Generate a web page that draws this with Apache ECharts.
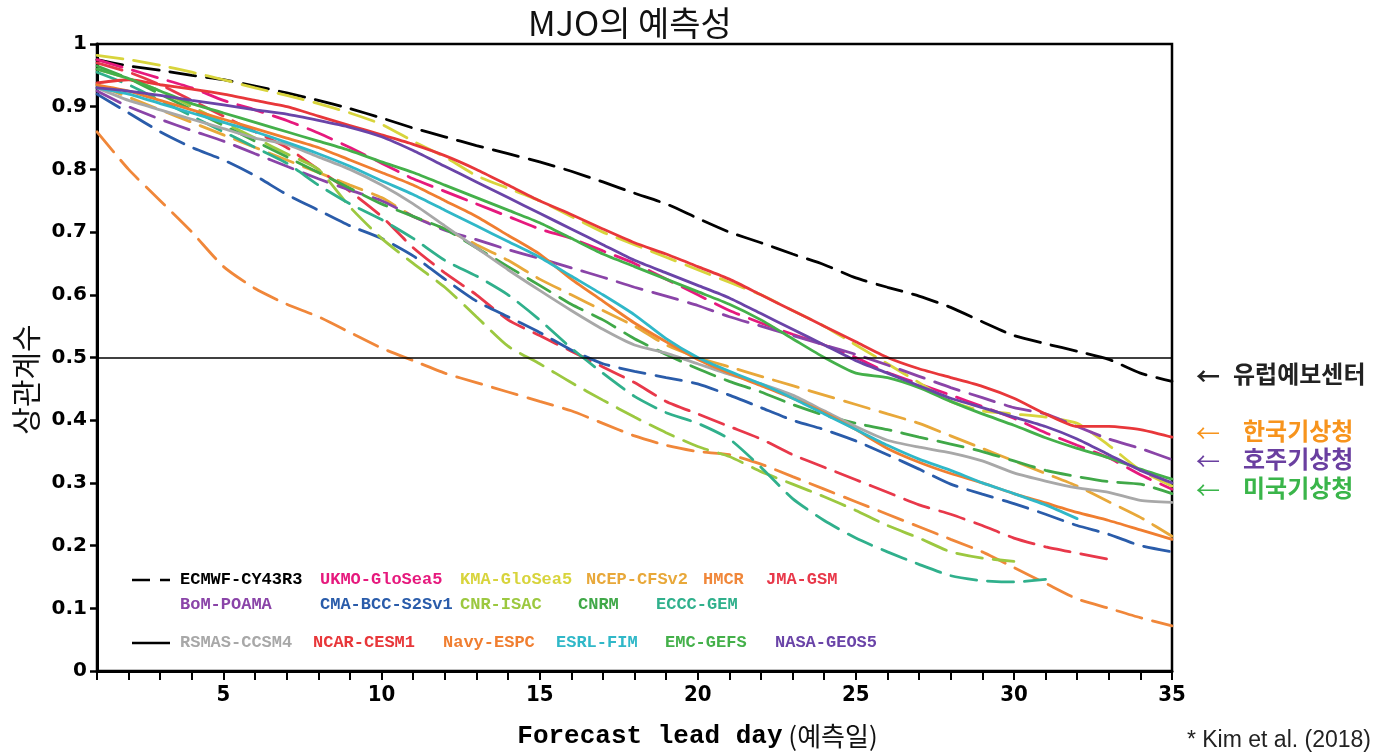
<!DOCTYPE html>
<html>
<head>
<meta charset="utf-8">
<script src="https://cdn.jsdelivr.net/npm/echarts@6/dist/echarts.min.js"></script>
<style>
  html, body { margin: 0; padding: 0; background: #fff; }
  #chart { width: 1391px; height: 754px; }
</style>
</head>
<body>
<div id="chart"></div>
<script>
// lead days 1..35, correlation per model
const days = Array.from({ length: 35 }, (_, i) => i + 1);

const modelNames = [
  "ECMWF-CY43R3", "UKMO-GloSea5", "KMA-GloSea5", "NCEP-CFSv2", "HMCR", "JMA-GSM",
  "BoM-POAMA", "CMA-BCC-S2Sv1", "CNR-ISAC", "CNRM", "ECCC-GEM",
  "RSMAS-CCSM4", "NCAR-CESM1", "Navy-ESPC", "ESRL-FIM", "EMC-GEFS", "NASA-GEOS5"
];

const ecmwf = [0.975, 0.965, 0.958, 0.95, 0.943, 0.933, 0.922, 0.91, 0.897, 0.882, 0.866, 0.852, 0.838, 0.825, 0.812, 0.797, 0.78, 0.762, 0.745, 0.722, 0.70, 0.683, 0.665, 0.648, 0.627, 0.612, 0.598, 0.58, 0.557, 0.535, 0.522, 0.51, 0.497, 0.475, 0.462];
const ukmo = [0.975, 0.96, 0.945, 0.93, 0.91, 0.895, 0.878, 0.858, 0.835, 0.81, 0.785, 0.765, 0.745, 0.725, 0.705, 0.69, 0.67, 0.65, 0.625, 0.60, 0.575, 0.555, 0.537, 0.52, 0.5, 0.476, 0.458, 0.44, 0.422, 0.403, 0.38, 0.36, 0.34, 0.313, 0.29];
const kma = [0.982, 0.975, 0.966, 0.955, 0.943, 0.93, 0.918, 0.905, 0.89, 0.872, 0.845, 0.82, 0.79, 0.77, 0.75, 0.725, 0.70, 0.68, 0.66, 0.64, 0.62, 0.60, 0.575, 0.55, 0.52, 0.49, 0.46, 0.43, 0.415, 0.41, 0.405, 0.395, 0.36, 0.32, 0.295];
const ncep = [0.935, 0.915, 0.895, 0.875, 0.855, 0.835, 0.815, 0.795, 0.775, 0.755, 0.725, 0.705, 0.68, 0.655, 0.625, 0.60, 0.575, 0.55, 0.52, 0.50, 0.485, 0.47, 0.455, 0.44, 0.425, 0.41, 0.395, 0.375, 0.355, 0.335, 0.315, 0.295, 0.27, 0.245, 0.215];
const hmcr = [0.86, 0.80, 0.75, 0.70, 0.645, 0.61, 0.585, 0.565, 0.54, 0.515, 0.495, 0.475, 0.46, 0.445, 0.43, 0.415, 0.395, 0.375, 0.36, 0.35, 0.345, 0.33, 0.31, 0.29, 0.27, 0.25, 0.23, 0.21, 0.19, 0.165, 0.14, 0.115, 0.10, 0.085, 0.072];
const jma = [0.97, 0.955, 0.935, 0.91, 0.885, 0.86, 0.835, 0.80, 0.765, 0.725, 0.675, 0.635, 0.60, 0.56, 0.535, 0.51, 0.485, 0.46, 0.43, 0.41, 0.39, 0.37, 0.345, 0.325, 0.305, 0.285, 0.265, 0.25, 0.232, 0.212, 0.198, 0.188, 0.178];
const bom = [0.925, 0.90, 0.88, 0.862, 0.845, 0.825, 0.805, 0.785, 0.767, 0.75, 0.725, 0.703, 0.688, 0.672, 0.658, 0.643, 0.628, 0.612, 0.598, 0.583, 0.565, 0.55, 0.535, 0.52, 0.505, 0.488, 0.47, 0.452, 0.436, 0.42, 0.41, 0.39, 0.37, 0.355, 0.337];
const cma = [0.92, 0.89, 0.86, 0.835, 0.815, 0.79, 0.76, 0.735, 0.71, 0.69, 0.662, 0.625, 0.59, 0.565, 0.54, 0.512, 0.49, 0.478, 0.468, 0.458, 0.44, 0.42, 0.40, 0.385, 0.367, 0.345, 0.322, 0.298, 0.282, 0.267, 0.25, 0.232, 0.218, 0.20, 0.19];
const cnr = [0.96, 0.945, 0.925, 0.90, 0.875, 0.85, 0.825, 0.80, 0.74, 0.69, 0.65, 0.612, 0.565, 0.518, 0.49, 0.46, 0.432, 0.405, 0.38, 0.358, 0.342, 0.318, 0.298, 0.278, 0.256, 0.232, 0.212, 0.19, 0.18, 0.175];
const cnrm = [0.965, 0.945, 0.92, 0.895, 0.87, 0.845, 0.82, 0.795, 0.77, 0.745, 0.725, 0.705, 0.675, 0.645, 0.615, 0.585, 0.56, 0.53, 0.505, 0.482, 0.462, 0.445, 0.425, 0.408, 0.395, 0.385, 0.373, 0.362, 0.35, 0.335, 0.32, 0.31, 0.302, 0.298, 0.283];
const eccc = [0.955, 0.935, 0.91, 0.885, 0.86, 0.835, 0.81, 0.775, 0.745, 0.72, 0.69, 0.655, 0.63, 0.60, 0.56, 0.515, 0.475, 0.438, 0.412, 0.395, 0.37, 0.325, 0.275, 0.24, 0.212, 0.19, 0.17, 0.152, 0.144, 0.142, 0.146];
const rsmas = [0.93, 0.91, 0.895, 0.88, 0.865, 0.85, 0.84, 0.82, 0.80, 0.775, 0.745, 0.71, 0.675, 0.64, 0.607, 0.575, 0.545, 0.52, 0.507, 0.49, 0.473, 0.458, 0.44, 0.415, 0.39, 0.368, 0.357, 0.348, 0.335, 0.316, 0.303, 0.292, 0.285, 0.272, 0.269];
const ncar = [0.938, 0.943, 0.935, 0.928, 0.92, 0.91, 0.90, 0.885, 0.87, 0.855, 0.84, 0.822, 0.80, 0.775, 0.75, 0.728, 0.705, 0.683, 0.665, 0.645, 0.625, 0.60, 0.575, 0.55, 0.525, 0.50, 0.482, 0.468, 0.454, 0.435, 0.41, 0.39, 0.39, 0.385, 0.373];
const navy = [0.935, 0.925, 0.91, 0.895, 0.88, 0.865, 0.85, 0.835, 0.815, 0.795, 0.775, 0.75, 0.725, 0.695, 0.665, 0.625, 0.59, 0.555, 0.525, 0.497, 0.475, 0.455, 0.435, 0.412, 0.385, 0.355, 0.333, 0.315, 0.30, 0.283, 0.268, 0.253, 0.24, 0.225, 0.21];
const esrl = [0.93, 0.92, 0.905, 0.89, 0.875, 0.86, 0.843, 0.825, 0.805, 0.782, 0.76, 0.735, 0.71, 0.685, 0.66, 0.63, 0.60, 0.568, 0.53, 0.50, 0.478, 0.458, 0.435, 0.41, 0.385, 0.36, 0.338, 0.32, 0.30, 0.283, 0.265, 0.243];
const emc = [0.96, 0.945, 0.925, 0.905, 0.89, 0.875, 0.86, 0.845, 0.83, 0.812, 0.795, 0.775, 0.755, 0.735, 0.715, 0.69, 0.665, 0.645, 0.625, 0.605, 0.585, 0.56, 0.53, 0.50, 0.475, 0.468, 0.452, 0.43, 0.41, 0.392, 0.372, 0.355, 0.34, 0.322, 0.306];
const nasa = [0.93, 0.925, 0.918, 0.91, 0.903, 0.895, 0.888, 0.878, 0.867, 0.852, 0.83, 0.805, 0.78, 0.755, 0.73, 0.705, 0.68, 0.655, 0.635, 0.615, 0.595, 0.57, 0.545, 0.52, 0.495, 0.475, 0.455, 0.435, 0.42, 0.405, 0.39, 0.37, 0.345, 0.32, 0.30];

const modelValues = [ecmwf, ukmo, kma, ncep, hmcr, jma, bom, cma, cnr, cnrm, eccc,
  rsmas, ncar, navy, esrl, emc, nasa];

const yTicks = [0, 0.1, 0.2, 0.3, 0.4, 0.5, 0.6, 0.7, 0.8, 0.9, 1];
const xLabelDays = [5, 10, 15, 20, 25, 30, 35];
const refLine = 0.5;

const agencyNotes = ["유럽예보센터", "한국기상청", "호주기상청", "미국기상청"];

// ---- styling ----
const colors = [
  "#000000", "#e6197d", "#d8d43c", "#e8a83a", "#f0873a", "#e8384a",
  "#8a44a8", "#2a5caa", "#9cc840", "#40a848", "#30b08c",
  "#a8a8a8", "#e8373a", "#f07e30", "#30b8c8", "#44b04a", "#6a44a8"
];
const dashed = [true, true, true, true, true, true, true, true, true, true, true,
  false, false, false, false, false, false];

// legend layout: [x, y] for each name
const legendPos = [
  [180, 580], [320, 580], [460, 580], [586, 580], [703, 580], [766, 580],
  [180, 605], [320, 605], [460, 605], [578, 605], [656, 605],
  [180, 643], [313, 643], [443, 643], [556, 643], [665, 643], [775, 643]
];
const noteStyle = [
  { y: 378, color: "#222222", gap: 1233 },
  { y: 435, color: "#f7941d", gap: 1243 },
  { y: 463, color: "#6a3fa0", gap: 1243 },
  { y: 492, color: "#3ab54a", gap: 1243 }
];

const series = modelNames.map((name, i) => ({
  name: name,
  type: "line",
  data: modelValues[i].map((v, k) => [days[k], v]),
  showSymbol: false,
  smooth: 0.2,
  lineStyle: {
    color: colors[i],
    width: 2.8,
    type: dashed[i] ? [26, 11] : "solid",
    cap: "round",
  },
  z: 3,
}));

series.push({
  name: "ref",
  type: "line",
  data: [],
  markLine: {
    silent: true,
    symbol: "none",
    label: { show: false },
    lineStyle: { color: "#000", width: 1.6, type: "solid" },
    data: [{ yAxis: refLine }],
  },
});

const graphic = [];
modelNames.forEach((name, i) => {
  graphic.push({
    type: "text",
    left: legendPos[i][0],
    top: legendPos[i][1] - 9,
    style: {
      text: name,
      fill: colors[i],
      font: "bold 17px 'Liberation Mono', 'Courier New', monospace",
    },
  });
});
// legend line samples
graphic.push(
  { type: "line", shape: { x1: 132, y1: 580, x2: 150, y2: 580 }, style: { stroke: "#000", lineWidth: 2.5 } },
  { type: "line", shape: { x1: 160, y1: 580, x2: 170, y2: 580 }, style: { stroke: "#000", lineWidth: 2.5 } },
  { type: "line", shape: { x1: 132, y1: 643, x2: 170, y2: 643 }, style: { stroke: "#000", lineWidth: 2.5 } }
);
agencyNotes.forEach((t, i) => {
  const s = noteStyle[i];
  graphic.push({
    type: "text",
    left: 1196,
    top: s.y - 14,
    style: { text: "←", fill: s.color, font: (i === 0 ? "bold " : "") + "24px 'Noto Sans CJK KR', sans-serif" },
  });
  graphic.push({
    type: "text",
    left: s.gap,
    top: s.y - 16,
    style: { text: t, fill: s.color, font: "bold 24px 'Noto Sans CJK KR', sans-serif" },
  });
});
graphic.push({
  type: "text",
  right: 20,
  top: 729,
  style: { text: "* Kim et al. (2018)", fill: "#222", font: "23px 'Liberation Sans', Arial, sans-serif" },
});

const option = {
  animation: false,
  backgroundColor: "#fff",
  title: {
    text: "MJO의 예측성",
    left: 625,
    textAlign: "center",
    top: 1,
    textStyle: { fontFamily: "Noto Sans CJK KR", fontWeight: "normal", fontSize: 34, color: "#111" },
  },
  grid: {
    left: 97, right: 219, top: 44, bottom: 82,
    show: true, borderColor: "#000", borderWidth: 2.5,
  },
  xAxis: {
    type: "value",
    min: 1,
    max: 35,
    interval: 1,
    axisLine: { lineStyle: { color: "#000", width: 3 } },
    axisTick: { inside: false, length: 9, lineStyle: { color: "#000", width: 2 } },
    axisLabel: {
      margin: 13,
      color: "#000",
      fontWeight: "bold",
      fontSize: 22,
      fontFamily: "'Liberation Sans Narrow', 'DejaVu Sans Condensed', Arial, sans-serif",
      formatter: (v) => (xLabelDays.includes(v) ? String(v) : ""),
    },
    splitLine: { show: false },
    name: "{a|Forecast lead day}{b| (예측일)}",
    nameLocation: "middle",
    nameGap: 52,
    nameTextStyle: {
      padding: [0, 0, 0, 126],
      rich: {
        a: { fontFamily: "'Liberation Mono', 'Courier New', monospace", fontWeight: "bold", fontSize: 26, color: "#000" },
        b: { fontFamily: "Noto Sans CJK KR", fontSize: 26, color: "#111" },
      },
    },
  },
  yAxis: {
    type: "value",
    min: yTicks[0],
    max: yTicks[yTicks.length - 1],
    interval: 0.1,
    axisLine: { lineStyle: { color: "#000", width: 3 } },
    axisTick: { inside: false, length: 7, lineStyle: { color: "#000", width: 2.5 } },
    axisLabel: {
      margin: 10,
      color: "#000",
      fontWeight: "bold",
      fontSize: 20,
      fontFamily: "'DejaVu Sans', Arial, sans-serif",
      formatter: (v) => (v === 0 ? "0" : v === 1 ? "1" : v.toFixed(1)),
    },
    splitLine: { show: false },
    name: "상관계수",
    nameLocation: "middle",
    nameGap: 54,
    nameTextStyle: { fontFamily: "Noto Sans CJK KR", fontSize: 30, color: "#111", padding: [0, 44, 0, 0] },
  },
  series: series,
  graphic: graphic,
};

const chart = echarts.init(document.getElementById("chart"));
chart.setOption(option);
</script>
</body>
</html>
